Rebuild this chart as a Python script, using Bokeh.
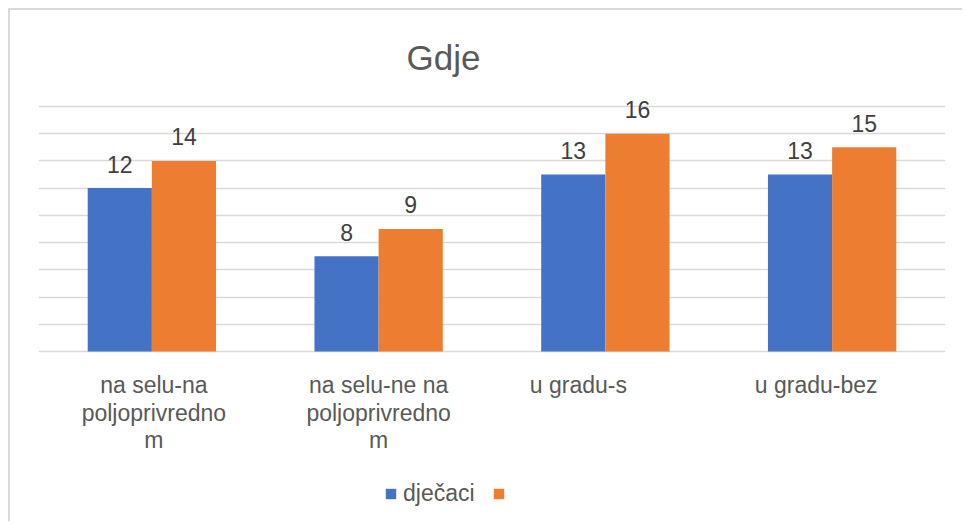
from bokeh.plotting import figure
from bokeh.models import (ColumnDataSource, FactorRange, Range1d, LabelSet, Label,
                          Legend, LegendItem, FixedTicker)
from bokeh.transform import dodge
from bokeh.core.properties import value
from bokeh.embed import file_html
from bokeh.resources import INLINE

# ---- data ----
categories = ["na selu-na poljoprivredno m", "na selu-ne na poljoprivredno m",
              "u gradu-s", "u gradu-bez"]
category_labels = ["na selu-na\npoljoprivredno\nm", "na selu-ne na\npoljoprivredno\nm",
                   "u gradu-s", "u gradu-bez"]
djecaci = [12, 7, 13, 13]
djecaci_labels = ["12", "8", "13", "13"]
druga_serija = [14, 9, 16, 15]
druga_serija_labels = ["14", "9", "16", "15"]
series_names = ["dječaci", ""]
title_text = "Gdje"
grid_values = [0, 2, 4, 6, 8, 10, 12, 14, 16, 18]

BLUE = "#4472C4"
ORANGE = "#ED7D31"
GRID = "#D9D9D9"
TXT = "#595959"
FONT = "Liberation Sans"

src = ColumnDataSource(dict(cat=categories, d=djecaci, dl=djecaci_labels,
                            o=druga_serija, ol=druga_serija_labels))

# frame spans the full canvas height so that texts are not clipped
p = figure(width=954, height=513, output_backend="svg", toolbar_location=None,
           x_range=FactorRange(*categories), y_range=Range1d(-12.64, 25.05),
           min_border_left=28, min_border_right=19, min_border_top=0,
           min_border_bottom=0)
p.styles = {"margin-left": "8px", "margin-top": "8px",
            "border-left": "2px solid #D9D9D9", "border-top": "2px solid #D9D9D9"}
p.background_fill_color = "white"
p.border_fill_color = "white"
p.outline_line_color = None
p.xaxis.visible = False
p.yaxis.visible = False
p.xgrid.grid_line_color = None
p.ygrid.ticker = FixedTicker(ticks=grid_values)
p.ygrid.grid_line_color = GRID
p.ygrid.grid_line_width = 1.6

w = 0.283
r1 = p.vbar(x=dodge("cat", -w / 2, range=p.x_range), top="d", width=w, source=src,
            fill_color=BLUE, line_color=None)
r2 = p.vbar(x=dodge("cat", w / 2, range=p.x_range), top="o", width=w, source=src,
            fill_color=ORANGE, line_color=None)

p.text(x=dodge("cat", -w / 2, range=p.x_range), y="d", text="dl", source=src,
       y_offset=-24, text_align="center", text_baseline="alphabetic",
       text_font=value(FONT), text_font_size="23px", text_color="#404040")
p.text(x=dodge("cat", w / 2, range=p.x_range), y="o", text="ol", source=src,
       y_offset=-24, text_align="center", text_baseline="alphabetic",
       text_font=value(FONT), text_font_size="23px", text_color="#404040")

# category labels: one centred LabelSet per wrapped line
split = [s.split("\n") for s in category_labels]
n_lines = max(len(s) for s in split)
label_dx = [2, 0, -27, -16]
for k in range(n_lines):
    rows = [(c, s[k], dx) for c, s, dx in zip(categories, split, label_dx) if len(s) > k]
    ls = ColumnDataSource(dict(cat=[r[0] for r in rows], t=[r[1] for r in rows],
                               xoff=[r[2] for r in rows], y=[0] * len(rows)))
    p.add_layout(LabelSet(x="cat", y="y", text="t", source=ls, x_offset="xoff",
                          y_offset=-21 - 27.5 * k, text_align="center",
                          text_baseline="top", text_font=value(FONT),
                          text_font_size="23px", text_color=TXT))

title = Label(x=1.786, y=21.6, text=title_text, text_align="center",
              text_baseline="alphabetic", text_font=FONT,
              text_font_size="35px", text_color=TXT)
p.add_layout(title)

legend = Legend(items=[LegendItem(label=value(series_names[0]), renderers=[r1]),
                       LegendItem(label=value(series_names[1]), renderers=[r2])],
                location=(346, 16), orientation="horizontal",
                padding=0, margin=0, spacing=17, label_standoff=6,
                glyph_width=13, glyph_height=13,
                border_line_color=None, background_fill_alpha=0,
                label_text_font=FONT, label_text_font_size="23px",
                label_text_color=TXT)
p.add_layout(legend, "center")

open("out.html", "w").write(file_html(p, INLINE))
